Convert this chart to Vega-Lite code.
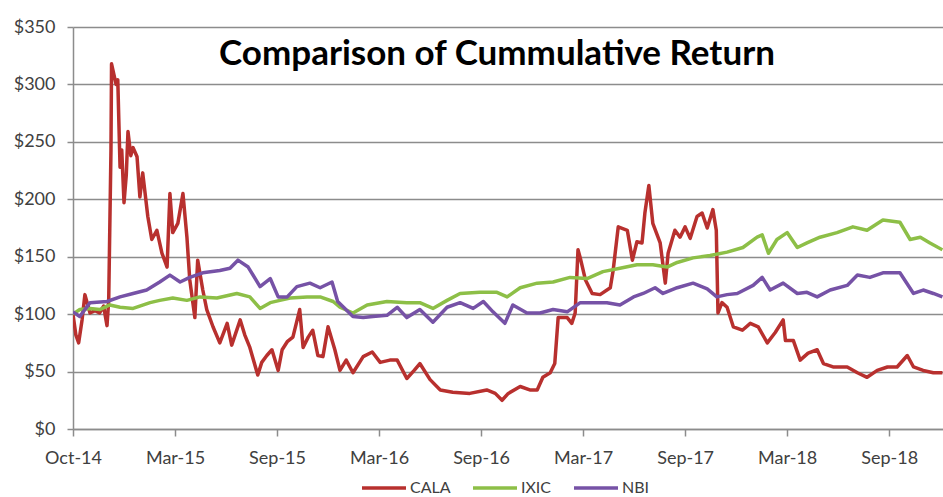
{
  "$schema": "https://vega.github.io/schema/vega-lite/v6.json",
  "width": 870,
  "height": 402,
  "autosize": {"type": "none"},
  "padding": {"left": 73, "top": 27, "right": 0, "bottom": 68},
  "background": "white",
  "title": {
    "text": "Comparison of Cummulative Return",
    "font": "Lato",
    "fontSize": 35,
    "fontWeight": "bold",
    "color": "#000000",
    "anchor": "middle",
    "frame": "group",
    "dx": -11,
    "dy": 58
  },
  "data": {
    "values": [
      {"date": "2014-10-01", "series": "CALA", "value": 100},
      {"date": "2014-10-06", "series": "CALA", "value": 82},
      {"date": "2014-10-11", "series": "CALA", "value": 75},
      {"date": "2014-10-17", "series": "CALA", "value": 95},
      {"date": "2014-10-22", "series": "CALA", "value": 117},
      {"date": "2014-10-31", "series": "CALA", "value": 101},
      {"date": "2014-11-09", "series": "CALA", "value": 103},
      {"date": "2014-11-17", "series": "CALA", "value": 101},
      {"date": "2014-11-24", "series": "CALA", "value": 107},
      {"date": "2014-11-30", "series": "CALA", "value": 90},
      {"date": "2014-12-03", "series": "CALA", "value": 112},
      {"date": "2014-12-07", "series": "CALA", "value": 243},
      {"date": "2014-12-08", "series": "CALA", "value": 318},
      {"date": "2014-12-16", "series": "CALA", "value": 300},
      {"date": "2014-12-19", "series": "CALA", "value": 304},
      {"date": "2014-12-23", "series": "CALA", "value": 228},
      {"date": "2014-12-26", "series": "CALA", "value": 243},
      {"date": "2014-12-30", "series": "CALA", "value": 197},
      {"date": "2015-01-03", "series": "CALA", "value": 221},
      {"date": "2015-01-06", "series": "CALA", "value": 259},
      {"date": "2015-01-11", "series": "CALA", "value": 238},
      {"date": "2015-01-15", "series": "CALA", "value": 245},
      {"date": "2015-01-22", "series": "CALA", "value": 237},
      {"date": "2015-01-27", "series": "CALA", "value": 202},
      {"date": "2015-02-01", "series": "CALA", "value": 223},
      {"date": "2015-02-10", "series": "CALA", "value": 185},
      {"date": "2015-02-17", "series": "CALA", "value": 165},
      {"date": "2015-02-26", "series": "CALA", "value": 173},
      {"date": "2015-03-07", "series": "CALA", "value": 153},
      {"date": "2015-03-16", "series": "CALA", "value": 141},
      {"date": "2015-03-21", "series": "CALA", "value": 205},
      {"date": "2015-03-26", "series": "CALA", "value": 171},
      {"date": "2015-04-04", "series": "CALA", "value": 179},
      {"date": "2015-04-13", "series": "CALA", "value": 205},
      {"date": "2015-04-20", "series": "CALA", "value": 167},
      {"date": "2015-04-25", "series": "CALA", "value": 130},
      {"date": "2015-05-04", "series": "CALA", "value": 97},
      {"date": "2015-05-09", "series": "CALA", "value": 147},
      {"date": "2015-05-18", "series": "CALA", "value": 121},
      {"date": "2015-05-25", "series": "CALA", "value": 104},
      {"date": "2015-06-05", "series": "CALA", "value": 89},
      {"date": "2015-06-17", "series": "CALA", "value": 75},
      {"date": "2015-06-30", "series": "CALA", "value": 92},
      {"date": "2015-07-08", "series": "CALA", "value": 73},
      {"date": "2015-07-23", "series": "CALA", "value": 95},
      {"date": "2015-07-31", "series": "CALA", "value": 82},
      {"date": "2015-08-09", "series": "CALA", "value": 71},
      {"date": "2015-08-23", "series": "CALA", "value": 47},
      {"date": "2015-08-30", "series": "CALA", "value": 58},
      {"date": "2015-09-08", "series": "CALA", "value": 64},
      {"date": "2015-09-17", "series": "CALA", "value": 69},
      {"date": "2015-09-28", "series": "CALA", "value": 51},
      {"date": "2015-10-05", "series": "CALA", "value": 69},
      {"date": "2015-10-14", "series": "CALA", "value": 76},
      {"date": "2015-10-24", "series": "CALA", "value": 80},
      {"date": "2015-11-05", "series": "CALA", "value": 104},
      {"date": "2015-11-11", "series": "CALA", "value": 71},
      {"date": "2015-11-20", "series": "CALA", "value": 80},
      {"date": "2015-11-28", "series": "CALA", "value": 86},
      {"date": "2015-12-07", "series": "CALA", "value": 64},
      {"date": "2015-12-16", "series": "CALA", "value": 63},
      {"date": "2015-12-25", "series": "CALA", "value": 89},
      {"date": "2016-01-06", "series": "CALA", "value": 69},
      {"date": "2016-01-15", "series": "CALA", "value": 51},
      {"date": "2016-01-26", "series": "CALA", "value": 60},
      {"date": "2016-02-07", "series": "CALA", "value": 49},
      {"date": "2016-02-25", "series": "CALA", "value": 63},
      {"date": "2016-03-12", "series": "CALA", "value": 67},
      {"date": "2016-03-26", "series": "CALA", "value": 58},
      {"date": "2016-04-12", "series": "CALA", "value": 60},
      {"date": "2016-04-25", "series": "CALA", "value": 60},
      {"date": "2016-05-12", "series": "CALA", "value": 44},
      {"date": "2016-05-25", "series": "CALA", "value": 51},
      {"date": "2016-06-04", "series": "CALA", "value": 57},
      {"date": "2016-06-22", "series": "CALA", "value": 43},
      {"date": "2016-07-10", "series": "CALA", "value": 34},
      {"date": "2016-08-01", "series": "CALA", "value": 32},
      {"date": "2016-08-31", "series": "CALA", "value": 31},
      {"date": "2016-09-30", "series": "CALA", "value": 34},
      {"date": "2016-10-15", "series": "CALA", "value": 31},
      {"date": "2016-10-27", "series": "CALA", "value": 25},
      {"date": "2016-11-07", "series": "CALA", "value": 31},
      {"date": "2016-11-28", "series": "CALA", "value": 37},
      {"date": "2016-12-15", "series": "CALA", "value": 34},
      {"date": "2016-12-28", "series": "CALA", "value": 34},
      {"date": "2017-01-07", "series": "CALA", "value": 45},
      {"date": "2017-01-20", "series": "CALA", "value": 49},
      {"date": "2017-01-28", "series": "CALA", "value": 57},
      {"date": "2017-02-03", "series": "CALA", "value": 97},
      {"date": "2017-02-19", "series": "CALA", "value": 97},
      {"date": "2017-02-27", "series": "CALA", "value": 92},
      {"date": "2017-03-05", "series": "CALA", "value": 101},
      {"date": "2017-03-10", "series": "CALA", "value": 156},
      {"date": "2017-03-14", "series": "CALA", "value": 149},
      {"date": "2017-03-23", "series": "CALA", "value": 130},
      {"date": "2017-04-04", "series": "CALA", "value": 118},
      {"date": "2017-04-18", "series": "CALA", "value": 117},
      {"date": "2017-05-06", "series": "CALA", "value": 123},
      {"date": "2017-05-11", "series": "CALA", "value": 138},
      {"date": "2017-05-20", "series": "CALA", "value": 176},
      {"date": "2017-06-05", "series": "CALA", "value": 173},
      {"date": "2017-06-14", "series": "CALA", "value": 147},
      {"date": "2017-06-22", "series": "CALA", "value": 163},
      {"date": "2017-07-01", "series": "CALA", "value": 162},
      {"date": "2017-07-06", "series": "CALA", "value": 188},
      {"date": "2017-07-13", "series": "CALA", "value": 212},
      {"date": "2017-07-20", "series": "CALA", "value": 179},
      {"date": "2017-08-02", "series": "CALA", "value": 162},
      {"date": "2017-08-11", "series": "CALA", "value": 127},
      {"date": "2017-08-16", "series": "CALA", "value": 153},
      {"date": "2017-08-28", "series": "CALA", "value": 173},
      {"date": "2017-09-06", "series": "CALA", "value": 167},
      {"date": "2017-09-15", "series": "CALA", "value": 176},
      {"date": "2017-09-24", "series": "CALA", "value": 166},
      {"date": "2017-10-06", "series": "CALA", "value": 185},
      {"date": "2017-10-15", "series": "CALA", "value": 188},
      {"date": "2017-10-24", "series": "CALA", "value": 175},
      {"date": "2017-11-03", "series": "CALA", "value": 191},
      {"date": "2017-11-09", "series": "CALA", "value": 173},
      {"date": "2017-11-12", "series": "CALA", "value": 101},
      {"date": "2017-11-19", "series": "CALA", "value": 110},
      {"date": "2017-11-28", "series": "CALA", "value": 106},
      {"date": "2017-12-09", "series": "CALA", "value": 89},
      {"date": "2017-12-25", "series": "CALA", "value": 86},
      {"date": "2018-01-08", "series": "CALA", "value": 92},
      {"date": "2018-01-22", "series": "CALA", "value": 89},
      {"date": "2018-02-07", "series": "CALA", "value": 75},
      {"date": "2018-02-21", "series": "CALA", "value": 84},
      {"date": "2018-03-07", "series": "CALA", "value": 95},
      {"date": "2018-03-11", "series": "CALA", "value": 77},
      {"date": "2018-03-25", "series": "CALA", "value": 77},
      {"date": "2018-04-06", "series": "CALA", "value": 60},
      {"date": "2018-04-20", "series": "CALA", "value": 66},
      {"date": "2018-05-06", "series": "CALA", "value": 69},
      {"date": "2018-05-17", "series": "CALA", "value": 57},
      {"date": "2018-06-03", "series": "CALA", "value": 54},
      {"date": "2018-06-28", "series": "CALA", "value": 54},
      {"date": "2018-07-16", "series": "CALA", "value": 49},
      {"date": "2018-08-02", "series": "CALA", "value": 45},
      {"date": "2018-08-20", "series": "CALA", "value": 51},
      {"date": "2018-09-07", "series": "CALA", "value": 54},
      {"date": "2018-09-24", "series": "CALA", "value": 54},
      {"date": "2018-10-12", "series": "CALA", "value": 64},
      {"date": "2018-10-23", "series": "CALA", "value": 54},
      {"date": "2018-11-09", "series": "CALA", "value": 51},
      {"date": "2018-11-27", "series": "CALA", "value": 49},
      {"date": "2018-12-13", "series": "CALA", "value": 49},

      {"date": "2014-10-01", "series": "IXIC", "value": 100},
      {"date": "2014-10-13", "series": "IXIC", "value": 104},
      {"date": "2014-10-31", "series": "IXIC", "value": 105},
      {"date": "2014-11-17", "series": "IXIC", "value": 104},
      {"date": "2014-12-05", "series": "IXIC", "value": 108},
      {"date": "2014-12-23", "series": "IXIC", "value": 106},
      {"date": "2015-01-15", "series": "IXIC", "value": 105},
      {"date": "2015-02-14", "series": "IXIC", "value": 110},
      {"date": "2015-03-03", "series": "IXIC", "value": 112},
      {"date": "2015-03-26", "series": "IXIC", "value": 114},
      {"date": "2015-04-20", "series": "IXIC", "value": 112},
      {"date": "2015-05-13", "series": "IXIC", "value": 115},
      {"date": "2015-06-12", "series": "IXIC", "value": 114},
      {"date": "2015-07-17", "series": "IXIC", "value": 118},
      {"date": "2015-08-09", "series": "IXIC", "value": 115},
      {"date": "2015-08-27", "series": "IXIC", "value": 105},
      {"date": "2015-09-14", "series": "IXIC", "value": 110},
      {"date": "2015-10-01", "series": "IXIC", "value": 112},
      {"date": "2015-10-19", "series": "IXIC", "value": 114},
      {"date": "2015-11-18", "series": "IXIC", "value": 115},
      {"date": "2015-12-11", "series": "IXIC", "value": 115},
      {"date": "2016-01-03", "series": "IXIC", "value": 111},
      {"date": "2016-01-15", "series": "IXIC", "value": 106},
      {"date": "2016-02-07", "series": "IXIC", "value": 101},
      {"date": "2016-03-03", "series": "IXIC", "value": 108},
      {"date": "2016-04-07", "series": "IXIC", "value": 111},
      {"date": "2016-05-12", "series": "IXIC", "value": 110},
      {"date": "2016-06-04", "series": "IXIC", "value": 110},
      {"date": "2016-06-27", "series": "IXIC", "value": 105},
      {"date": "2016-07-22", "series": "IXIC", "value": 112},
      {"date": "2016-08-14", "series": "IXIC", "value": 118},
      {"date": "2016-09-18", "series": "IXIC", "value": 119},
      {"date": "2016-10-18", "series": "IXIC", "value": 119},
      {"date": "2016-11-05", "series": "IXIC", "value": 115},
      {"date": "2016-11-28", "series": "IXIC", "value": 123},
      {"date": "2016-12-28", "series": "IXIC", "value": 127},
      {"date": "2017-01-25", "series": "IXIC", "value": 128},
      {"date": "2017-02-24", "series": "IXIC", "value": 132},
      {"date": "2017-03-26", "series": "IXIC", "value": 131},
      {"date": "2017-04-23", "series": "IXIC", "value": 137},
      {"date": "2017-05-23", "series": "IXIC", "value": 140},
      {"date": "2017-06-22", "series": "IXIC", "value": 143},
      {"date": "2017-07-20", "series": "IXIC", "value": 143},
      {"date": "2017-08-14", "series": "IXIC", "value": 141},
      {"date": "2017-09-01", "series": "IXIC", "value": 145},
      {"date": "2017-09-29", "series": "IXIC", "value": 149},
      {"date": "2017-10-29", "series": "IXIC", "value": 151},
      {"date": "2017-11-28", "series": "IXIC", "value": 154},
      {"date": "2017-12-26", "series": "IXIC", "value": 158},
      {"date": "2018-01-20", "series": "IXIC", "value": 167},
      {"date": "2018-01-29", "series": "IXIC", "value": 169},
      {"date": "2018-02-09", "series": "IXIC", "value": 153},
      {"date": "2018-02-24", "series": "IXIC", "value": 165},
      {"date": "2018-03-14", "series": "IXIC", "value": 171},
      {"date": "2018-04-01", "series": "IXIC", "value": 158},
      {"date": "2018-04-18", "series": "IXIC", "value": 162},
      {"date": "2018-05-11", "series": "IXIC", "value": 167},
      {"date": "2018-06-10", "series": "IXIC", "value": 171},
      {"date": "2018-07-08", "series": "IXIC", "value": 176},
      {"date": "2018-08-02", "series": "IXIC", "value": 173},
      {"date": "2018-08-30", "series": "IXIC", "value": 182},
      {"date": "2018-09-29", "series": "IXIC", "value": 180},
      {"date": "2018-10-17", "series": "IXIC", "value": 165},
      {"date": "2018-11-04", "series": "IXIC", "value": 167},
      {"date": "2018-11-21", "series": "IXIC", "value": 162},
      {"date": "2018-12-13", "series": "IXIC", "value": 156},

      {"date": "2014-10-01", "series": "NBI", "value": 102},
      {"date": "2014-10-13", "series": "NBI", "value": 98},
      {"date": "2014-10-31", "series": "NBI", "value": 110},
      {"date": "2014-11-30", "series": "NBI", "value": 111},
      {"date": "2014-12-23", "series": "NBI", "value": 115},
      {"date": "2015-01-15", "series": "NBI", "value": 118},
      {"date": "2015-02-08", "series": "NBI", "value": 121},
      {"date": "2015-03-03", "series": "NBI", "value": 128},
      {"date": "2015-03-21", "series": "NBI", "value": 134},
      {"date": "2015-04-08", "series": "NBI", "value": 128},
      {"date": "2015-04-25", "series": "NBI", "value": 132},
      {"date": "2015-05-18", "series": "NBI", "value": 136},
      {"date": "2015-06-17", "series": "NBI", "value": 138},
      {"date": "2015-07-05", "series": "NBI", "value": 140},
      {"date": "2015-07-19", "series": "NBI", "value": 147},
      {"date": "2015-08-06", "series": "NBI", "value": 141},
      {"date": "2015-08-27", "series": "NBI", "value": 124},
      {"date": "2015-09-14", "series": "NBI", "value": 131},
      {"date": "2015-09-28", "series": "NBI", "value": 115},
      {"date": "2015-10-14", "series": "NBI", "value": 115},
      {"date": "2015-10-31", "series": "NBI", "value": 124},
      {"date": "2015-11-23", "series": "NBI", "value": 127},
      {"date": "2015-12-11", "series": "NBI", "value": 123},
      {"date": "2016-01-01", "series": "NBI", "value": 128},
      {"date": "2016-01-11", "series": "NBI", "value": 111},
      {"date": "2016-02-07", "series": "NBI", "value": 98},
      {"date": "2016-02-25", "series": "NBI", "value": 97},
      {"date": "2016-03-13", "series": "NBI", "value": 98},
      {"date": "2016-04-07", "series": "NBI", "value": 99},
      {"date": "2016-04-25", "series": "NBI", "value": 106},
      {"date": "2016-05-12", "series": "NBI", "value": 97},
      {"date": "2016-06-04", "series": "NBI", "value": 104},
      {"date": "2016-06-27", "series": "NBI", "value": 93},
      {"date": "2016-07-22", "series": "NBI", "value": 106},
      {"date": "2016-08-14", "series": "NBI", "value": 110},
      {"date": "2016-09-06", "series": "NBI", "value": 105},
      {"date": "2016-09-24", "series": "NBI", "value": 111},
      {"date": "2016-10-11", "series": "NBI", "value": 102},
      {"date": "2016-11-01", "series": "NBI", "value": 92},
      {"date": "2016-11-15", "series": "NBI", "value": 108},
      {"date": "2016-12-10", "series": "NBI", "value": 101},
      {"date": "2017-01-02", "series": "NBI", "value": 101},
      {"date": "2017-01-25", "series": "NBI", "value": 104},
      {"date": "2017-02-19", "series": "NBI", "value": 102},
      {"date": "2017-03-14", "series": "NBI", "value": 110},
      {"date": "2017-04-06", "series": "NBI", "value": 110},
      {"date": "2017-04-30", "series": "NBI", "value": 110},
      {"date": "2017-05-23", "series": "NBI", "value": 108},
      {"date": "2017-06-16", "series": "NBI", "value": 115},
      {"date": "2017-07-03", "series": "NBI", "value": 118},
      {"date": "2017-07-24", "series": "NBI", "value": 123},
      {"date": "2017-08-07", "series": "NBI", "value": 118},
      {"date": "2017-09-01", "series": "NBI", "value": 123},
      {"date": "2017-09-29", "series": "NBI", "value": 127},
      {"date": "2017-10-24", "series": "NBI", "value": 122},
      {"date": "2017-11-10", "series": "NBI", "value": 115},
      {"date": "2017-11-28", "series": "NBI", "value": 117},
      {"date": "2017-12-16", "series": "NBI", "value": 118},
      {"date": "2018-01-13", "series": "NBI", "value": 125},
      {"date": "2018-01-29", "series": "NBI", "value": 132},
      {"date": "2018-02-12", "series": "NBI", "value": 121},
      {"date": "2018-03-07", "series": "NBI", "value": 127},
      {"date": "2018-04-01", "series": "NBI", "value": 118},
      {"date": "2018-04-18", "series": "NBI", "value": 119},
      {"date": "2018-05-06", "series": "NBI", "value": 115},
      {"date": "2018-05-29", "series": "NBI", "value": 121},
      {"date": "2018-06-28", "series": "NBI", "value": 125},
      {"date": "2018-07-16", "series": "NBI", "value": 134},
      {"date": "2018-08-07", "series": "NBI", "value": 132},
      {"date": "2018-08-30", "series": "NBI", "value": 136},
      {"date": "2018-09-29", "series": "NBI", "value": 136},
      {"date": "2018-10-23", "series": "NBI", "value": 118},
      {"date": "2018-11-09", "series": "NBI", "value": 121},
      {"date": "2018-11-27", "series": "NBI", "value": 118},
      {"date": "2018-12-13", "series": "NBI", "value": 115}
    ]
  },
  "mark": {"type": "line", "strokeWidth": 3.5, "strokeJoin": "round", "clip": true},
  "encoding": {
    "x": {
      "field": "date",
      "type": "temporal",
      "scale": {
        "type": "utc",
        "domain": [
          {"year": 2014, "month": 10, "date": 1, "utc": true},
          {"year": 2018, "month": 12, "date": 14, "utc": true}
        ]
      },
      "axis": {
        "title": null,
        "format": "%b-%y",
        "values": [
          {"year": 2014, "month": 10, "date": 1, "utc": true},
          {"year": 2015, "month": 3, "date": 30, "utc": true},
          {"year": 2015, "month": 9, "date": 26, "utc": true},
          {"year": 2016, "month": 3, "date": 24, "utc": true},
          {"year": 2016, "month": 9, "date": 20, "utc": true},
          {"year": 2017, "month": 3, "date": 19, "utc": true},
          {"year": 2017, "month": 9, "date": 15, "utc": true},
          {"year": 2018, "month": 3, "date": 14, "utc": true},
          {"year": 2018, "month": 9, "date": 10, "utc": true}
        ],
        "grid": false,
        "domainColor": "#8c8c8c",
        "domainWidth": 1.5,
        "tickColor": "#8c8c8c",
        "tickWidth": 1.5,
        "tickSize": 7,
        "labelPadding": 13,
        "labelFont": "Lato",
        "labelFontSize": 18,
        "labelColor": "#404040",
        "labelOverlap": false,
        "labelBound": false,
        "labelFlush": false
      }
    },
    "y": {
      "field": "value",
      "type": "quantitative",
      "scale": {"domain": [0, 350], "nice": false},
      "axis": {
        "title": null,
        "values": [0, 50, 100, 150, 200, 250, 300, 350],
        "format": "$d",
        "grid": true,
        "gridColor": "#8c8c8c",
        "gridWidth": 1.5,
        "domainColor": "#8c8c8c",
        "domainWidth": 1.5,
        "tickColor": "#8c8c8c",
        "tickWidth": 1.5,
        "tickSize": 6,
        "labelPadding": 12,
        "labelFont": "Lato",
        "labelFontSize": 18,
        "labelColor": "#404040"
      }
    },
    "color": {
      "field": "series",
      "type": "nominal",
      "scale": {"domain": ["CALA", "IXIC", "NBI"], "range": ["#B8302E", "#8DBF47", "#7652A6"]},
      "legend": {
        "title": null,
        "orient": "none",
        "direction": "horizontal",
        "legendX": 287,
        "legendY": 437,
        "symbolType": "stroke",
        "symbolSize": 1936,
        "symbolStrokeWidth": 3.5,
        "labelFont": "Lato",
        "labelFontSize": 16,
        "labelColor": "#404040",
        "labelOffset": 2,
        "columnPadding": 15
      }
    }
  },
  "config": {
    "view": {"stroke": null},
    "font": "Lato"
  }
}
